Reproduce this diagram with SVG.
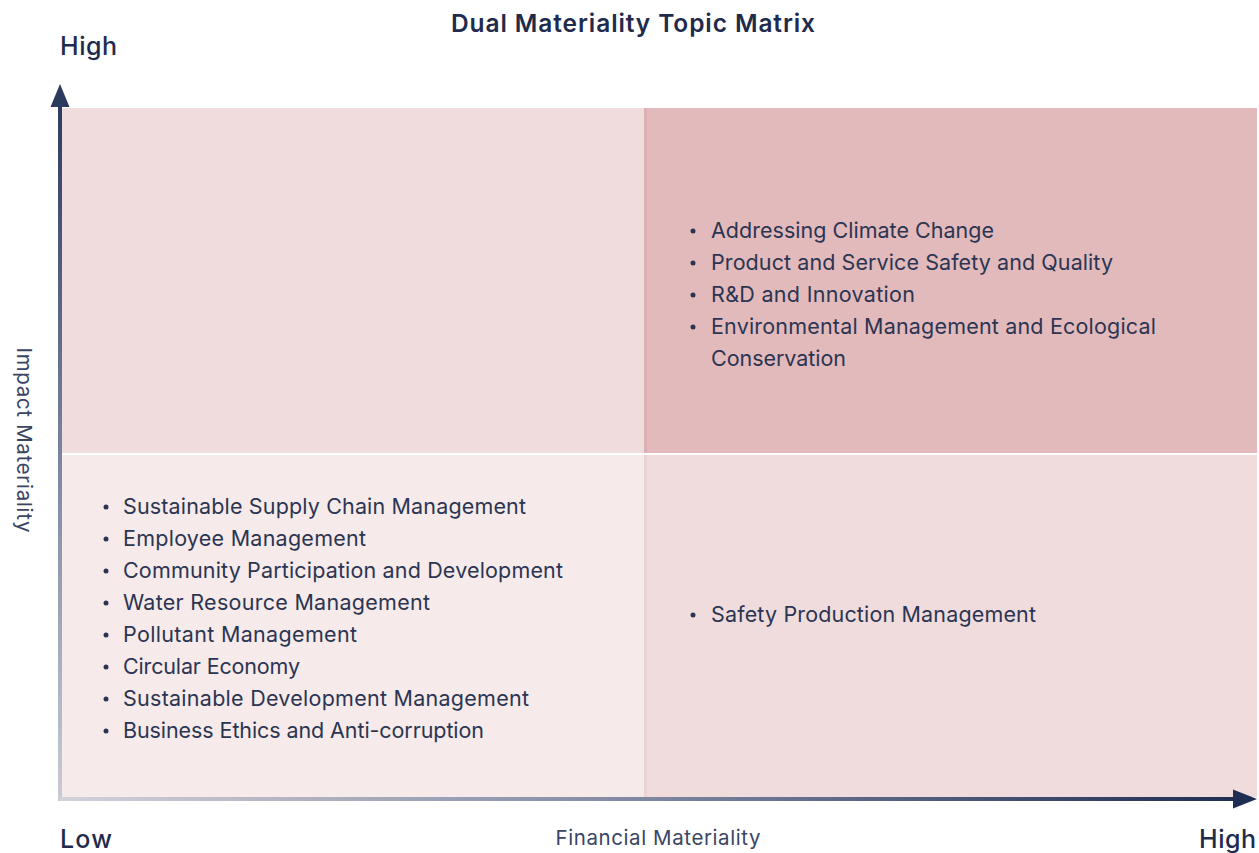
<svg xmlns="http://www.w3.org/2000/svg" width="1259" height="853" viewBox="0 0 1259 853">
<style>
.t{font-family:"Inter","Noto Sans","Liberation Sans",sans-serif;fill:#2b3552;font-size:21.5px}
.h{font-family:"Inter","Noto Sans","Liberation Sans",sans-serif;fill:#1f2b4d;font-size:25px;font-weight:500}
.title{font-family:"Inter","Noto Sans","Liberation Sans",sans-serif;fill:#1f2b4d;font-size:24.5px;font-weight:600}
.ax{font-family:"Inter","Noto Sans","Liberation Sans",sans-serif;fill:#3a4563;font-size:20.5px}
.b{fill:#2b3552}
</style>
<defs>
<linearGradient id="gy" x1="0" y1="1" x2="0" y2="0">
<stop offset="0" stop-color="#c9cbd6"/>
<stop offset="0.6" stop-color="#6a7592"/>
<stop offset="1" stop-color="#2c3a5e"/>
</linearGradient>
<linearGradient id="gx" x1="0" y1="0" x2="1" y2="0">
<stop offset="0" stop-color="#d3d1da"/>
<stop offset="0.5" stop-color="#7e86a0"/>
<stop offset="1" stop-color="#1f2d52"/>
</linearGradient>
</defs>
<rect width="1259" height="853" fill="#ffffff"/>
<text class="title" x="633" y="32" text-anchor="middle" textLength="364">Dual Materiality Topic Matrix</text>

<g id="q-top-left"><rect x="62" y="108" width="582" height="345" fill="#f0dcdd"/></g>
<g id="q-top-right"><rect x="644" y="108" width="613" height="345" fill="#e3babc"/><rect x="644" y="108" width="3" height="345" fill="#dbb0b2"/>
<circle class="b" cx="693" cy="231" r="2.5"/><text class="t" x="711" y="238" textLength="283">Addressing Climate Change</text>
<circle class="b" cx="693" cy="263" r="2.5"/><text class="t" x="711" y="270" textLength="402">Product and Service Safety and Quality</text>
<circle class="b" cx="693" cy="295" r="2.5"/><text class="t" x="711" y="302" textLength="204">R&amp;D and Innovation</text>
<circle class="b" cx="693" cy="327" r="2.5"/><text class="t" x="711" y="334" textLength="445">Environmental Management and Ecological</text>
<text class="t" x="711" y="366" textLength="135">Conservation</text>
</g>
<g id="q-bottom-left"><rect x="62" y="455" width="582" height="342" fill="#f6eaea"/>
<circle class="b" cx="106" cy="507" r="2.5"/><text class="t" x="123" y="514" textLength="403">Sustainable Supply Chain Management</text>
<circle class="b" cx="106" cy="539" r="2.5"/><text class="t" x="123" y="546" textLength="243">Employee Management</text>
<circle class="b" cx="106" cy="571" r="2.5"/><text class="t" x="123" y="578" textLength="440">Community Participation and Development</text>
<circle class="b" cx="106" cy="603" r="2.5"/><text class="t" x="123" y="610" textLength="307">Water Resource Management</text>
<circle class="b" cx="106" cy="635" r="2.5"/><text class="t" x="123" y="642" textLength="234">Pollutant Management</text>
<circle class="b" cx="106" cy="667" r="2.5"/><text class="t" x="123" y="674" textLength="177">Circular Economy</text>
<circle class="b" cx="106" cy="699" r="2.5"/><text class="t" x="123" y="706" textLength="406">Sustainable Development Management</text>
<circle class="b" cx="106" cy="731" r="2.5"/><text class="t" x="123" y="738" textLength="361">Business Ethics and Anti-corruption</text>
</g>
<g id="q-bottom-right"><rect x="644" y="455" width="613" height="342" fill="#f0dcdd"/><rect x="644" y="455" width="3" height="342" fill="#ecd3d4"/>
<circle class="b" cx="693" cy="615" r="2.5"/><text class="t" x="711" y="622" textLength="325">Safety Production Management</text>
</g>

<g id="connectors">
<rect x="58" y="100" width="4" height="701" fill="url(#gy)"/>
<polygon points="60,84 69.5,107 50.5,107" fill="#2c3a5e"/>
<rect x="60" y="797" width="1180" height="4" fill="url(#gx)"/>
<polygon points="1257,799 1233,789.5 1233,808.5" fill="#1f2d52"/>
</g>

<g id="labels">
<text class="h" x="60" y="55" textLength="57">High</text>
<text class="h" x="60" y="848" textLength="52">Low</text>
<text class="h" x="1256" y="848" text-anchor="end" textLength="57">High</text>
<text class="ax" x="658" y="845" text-anchor="middle" textLength="205">Financial Materiality</text>
<text class="ax" transform="translate(17,440) rotate(90)" text-anchor="middle" textLength="185">Impact Materiality</text>
</g>
</svg>
